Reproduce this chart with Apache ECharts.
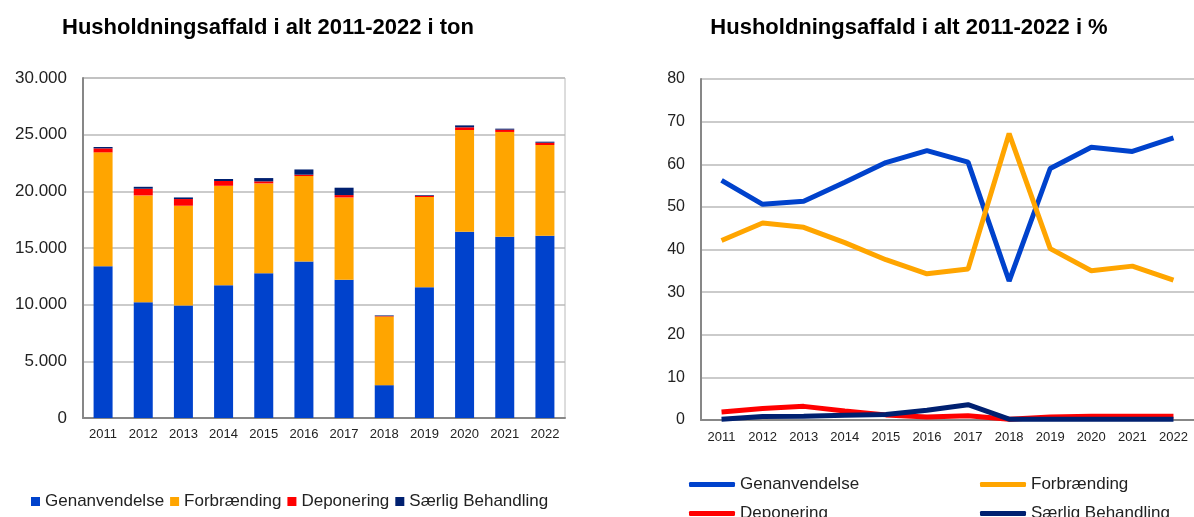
<!DOCTYPE html>
<html>
<head>
    <meta charset="utf-8">
    <title>Husholdningsaffald</title>
    <script src="https://cdn.jsdelivr.net/npm/echarts@6/dist/echarts.min.js"></script>
    <style>
        html, body { margin: 0; padding: 0; background: #fff; }
    </style>
</head>
<body>
    <div id="main" style="width: 1194px;height:517px;"></div>
    <script type="text/javascript">
        // data
        var years = ['2011', '2012', '2013', '2014', '2015', '2016', '2017', '2018', '2019', '2020', '2021', '2022'];
        var names = ['Genanvendelse', 'Forbrænding', 'Deponering', 'Særlig Behandling'];
        var colors = ['#0042cc', '#ffa500', '#ff0000', '#002070'];

        // tons
        var tonGenanvendelse = [13400, 10220, 9920, 11720, 12780, 13810, 12190, 2900, 11540, 16430, 15990, 16080];
        var tonForbraending = [10040, 9420, 8810, 8770, 7920, 7540, 7270, 6050, 7960, 8980, 9250, 8010];
        var tonDeponering = [350, 590, 590, 420, 180, 120, 210, 40, 110, 240, 200, 200];
        var tonSaerlig = [120, 170, 140, 180, 290, 460, 650, 60, 60, 170, 90, 90];

        // percent
        var pctGenanvendelse = [56.2, 50.6, 51.3, 55.8, 60.4, 63.2, 60.5, 32.6, 59.0, 64.0, 63.0, 66.2];
        var pctForbraending = [42.1, 46.2, 45.2, 41.6, 37.6, 34.3, 35.4, 67.2, 40.2, 35.0, 36.1, 32.8];
        var pctDeponering = [1.9, 2.7, 3.2, 2.1, 1.2, 0.7, 1.0, 0.2, 0.7, 0.9, 0.9, 0.9];
        var pctSaerlig = [0.2, 0.8, 0.9, 1.1, 1.3, 2.3, 3.6, 0.2, 0.2, 0.2, 0.2, 0.2];

        var tonTicks = [0, 5000, 10000, 15000, 20000, 25000, 30000];

        var font = "'Liberation Sans', Arial, sans-serif";
        var gridColor = '#bababa';
        var axisColor = '#878787';

        function dots(v) {
            return String(v).replace(/\B(?=(\d{3})+(?!\d))/g, '.');
        }

        var myChart = echarts.init(document.getElementById('main'));

        var tonData = [tonGenanvendelse, tonForbraending, tonDeponering, tonSaerlig];
        var pctData = [pctGenanvendelse, pctForbraending, pctDeponering, pctSaerlig];

        var series = [];
        tonData.forEach(function (d, i) {
            series.push({
                name: names[i], type: 'bar', stack: 'ton',
                xAxisIndex: 0, yAxisIndex: 0,
                barWidth: 19,
                itemStyle: { color: colors[i] },
                data: d
            });
        });
        pctData.forEach(function (d, i) {
            series.push({
                name: names[i], type: 'line',
                xAxisIndex: 1, yAxisIndex: 1,
                symbol: 'none',
                lineStyle: { color: colors[i], width: 5 },
                itemStyle: { color: colors[i] },
                data: d
            });
        });

        var lineLegend = function (name, left, top) {
            return {
                data: [name], left: left, top: top,
                icon: 'roundRect', itemWidth: 46, itemHeight: 5,
                textStyle: { fontFamily: font, fontSize: 17, color: '#222' }
            };
        };

        myChart.setOption({
            animation: false,
            graphic: [
                { type: 'text', x: 268, y: 28, style: { text: 'Husholdningsaffald i alt 2011-2022 i ton', font: 'bold 22px ' + font, fill: '#000', textAlign: 'center', textVerticalAlign: 'middle' } },
                { type: 'text', x: 909, y: 28, style: { text: 'Husholdningsaffald i alt 2011-2022 i %', font: 'bold 22px ' + font, fill: '#000', textAlign: 'center', textVerticalAlign: 'middle' } }
            ],
            legend: [
                {
                    data: names, left: 26, top: 488, itemGap: 6,
                    icon: 'rect', itemWidth: 9, itemHeight: 9,
                    textStyle: { fontFamily: font, fontSize: 17, color: '#222' }
                },
                lineLegend('Genanvendelse', 684, 471),
                lineLegend('Forbrænding', 975, 471),
                lineLegend('Deponering', 684, 500),
                lineLegend('Særlig Behandling', 975, 500)
            ],
            grid: [
                { left: 83, top: 78, width: 482, height: 340, show: true, borderColor: gridColor, borderWidth: 1 },
                { left: 701, top: 79, width: 497, height: 341 }
            ],
            xAxis: [
                {
                    type: 'category', gridIndex: 0, data: years,
                    axisLine: { lineStyle: { color: axisColor, width: 2 } },
                    axisTick: { show: false },
                    axisLabel: { fontFamily: font, fontSize: 13, color: '#222', margin: 10 }
                },
                {
                    type: 'category', gridIndex: 1, data: years,
                    axisLine: { lineStyle: { color: axisColor, width: 2 } },
                    axisTick: { show: false },
                    axisLabel: { fontFamily: font, fontSize: 13, color: '#222', margin: 11 }
                }
            ],
            yAxis: [
                {
                    type: 'value', gridIndex: 0, min: tonTicks[0], max: tonTicks[tonTicks.length - 1], interval: 5000,
                    axisLine: { show: true, lineStyle: { color: axisColor, width: 2 } },
                    axisTick: { show: false },
                    splitLine: { lineStyle: { color: gridColor, width: 1.5 } },
                    axisLabel: { fontFamily: font, fontSize: 17, color: '#222', margin: 16, formatter: dots }
                },
                {
                    type: 'value', gridIndex: 1, min: 0, max: 80, interval: 10,
                    axisLine: { show: true, lineStyle: { color: axisColor, width: 2 } },
                    axisTick: { show: false },
                    splitLine: { lineStyle: { color: gridColor, width: 1.5 } },
                    axisLabel: { fontFamily: font, fontSize: 16, color: '#222', margin: 16 }
                }
            ],
            series: series
        });
    </script>
</body>
</html>
